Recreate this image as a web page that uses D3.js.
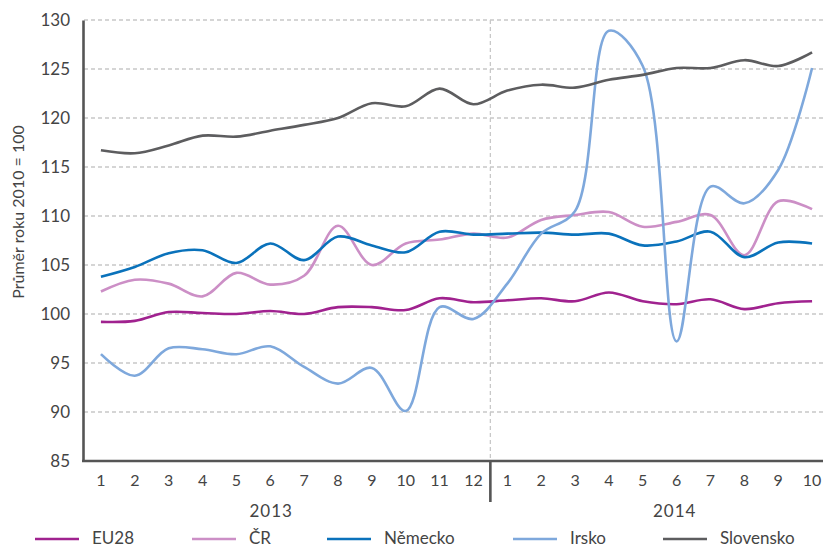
<!DOCTYPE html>
<html>
<head>
<meta charset="utf-8">
<script src="https://cdn.jsdelivr.net/npm/d3@7"></script>
<style>
  body { margin: 0; background: #fff; }
  svg { display: block; }
</style>
</head>
<body>
<svg id="chart" width="823" height="547"></svg>
<script>
// months, two years
var months = ["1","2","3","4","5","6","7","8","9","10","11","12","1","2","3","4","5","6","7","8","9","10"];
var years = ["2013", "2014"];
var yTicks = [85, 90, 95, 100, 105, 110, 115, 120, 125, 130];

var eu28 = [99.2, 99.3, 100.2, 100.1, 100.0, 100.3, 100.0, 100.7, 100.7, 100.4, 101.6, 101.2,
            101.4, 101.6, 101.3, 102.2, 101.3, 101.0, 101.5, 100.5, 101.1, 101.3];
var cr = [102.3, 103.5, 103.1, 101.8, 104.2, 103.0, 103.9, 109.0, 105.0, 107.2, 107.6, 108.2,
          107.8, 109.6, 110.1, 110.4, 108.9, 109.4, 110.1, 106.0, 111.5, 110.7];
var nemecko = [103.8, 104.8, 106.2, 106.5, 105.2, 107.2, 105.5, 107.9, 107.0, 106.3, 108.4, 108.1,
               108.2, 108.3, 108.1, 108.2, 107.0, 107.4, 108.4, 105.8, 107.3, 107.2];
var irsko = [95.9, 93.7, 96.5, 96.4, 95.9, 96.7, 94.6, 92.9, 94.5, 90.1, 100.7, 99.5,
             103.1, 108.2, 110.5, 128.9, 125.3, 97.2, 113.0, 111.3, 114.7, 125.1];
var slovensko = [116.7, 116.4, 117.2, 118.2, 118.1, 118.7, 119.3, 120.0, 121.5, 121.2, 123.0, 121.4,
                 122.8, 123.4, 123.1, 123.9, 124.4, 125.1, 125.1, 125.9, 125.3, 126.7];

var series = [
  {name: "EU28", values: eu28, color: "#a0228f"},
  {name: "ČR", values: cr, color: "#cc8fc6"},
  {name: "Německo", values: nemecko, color: "#0a72bb"},
  {name: "Irsko", values: irsko, color: "#7ea8dc"},
  {name: "Slovensko", values: slovensko, color: "#5d5d5f"}
];

var font = "Lato, 'Open Sans', sans-serif";
var svg = d3.select("#chart");
var plotL = 84, plotR = 829, plotT = 20, plotB = 461;

var x = d3.scaleBand().domain(d3.range(months.length)).range([plotL, plotR]);
var y = d3.scaleLinear().domain([85, 130]).range([plotB, plotT]);
var cx = function(i) { return x(i) + x.bandwidth() / 2; };

// grid
svg.append("g").selectAll("line")
  .data(yTicks.slice(1))
  .enter().append("line")
  .attr("x1", plotL).attr("x2", 823)
  .attr("y1", function(d) { return y(d); })
  .attr("y2", function(d) { return y(d); })
  .attr("stroke", "#c8c8c8")
  .attr("stroke-width", 1.3)
  .attr("stroke-dasharray", "4,3");

// year divider
var divX = x(12);
svg.append("line")
  .attr("x1", divX).attr("x2", divX)
  .attr("y1", plotT).attr("y2", plotB)
  .attr("stroke", "#c8c8c8").attr("stroke-width", 1.3)
  .attr("stroke-dasharray", "4,3");

// lines
var line = d3.line()
  .x(function(d, i) { return cx(i); })
  .y(function(d) { return y(d); })
  .curve(d3.curveCatmullRom);

svg.append("g").selectAll("path")
  .data(series)
  .enter().append("path")
  .attr("d", function(s) { return line(s.values); })
  .attr("fill", "none")
  .attr("stroke", function(s) { return s.color; })
  .attr("stroke-width", 2.6);

// axes
var yAxis = svg.append("g")
  .attr("transform", "translate(" + (plotL - 1) + ",0)")
  .call(d3.axisLeft(y).tickValues(yTicks).tickSize(0).tickPadding(13));
yAxis.select(".domain").attr("stroke", "#555").attr("stroke-width", 2.6);
yAxis.selectAll("text").attr("font-size", 17).attr("fill", "#444").attr("font-family", font);

var xAxis = svg.append("g")
  .attr("transform", "translate(0," + plotB + ")")
  .call(d3.axisBottom(x).tickFormat(function(i) { return months[i]; }).tickSize(0).tickPadding(14));
xAxis.select(".domain").attr("d", "M" + (plotL - 2) + ",0H" + plotR).attr("stroke", "#555").attr("stroke-width", 2.6);
xAxis.selectAll("text").attr("font-size", 16).attr("fill", "#444").attr("font-family", font);

svg.append("line")
  .attr("x1", divX).attr("x2", divX)
  .attr("y1", plotB).attr("y2", 502)
  .attr("stroke", "#555").attr("stroke-width", 2.6);

svg.selectAll(".year")
  .data(years)
  .enter().append("text")
  .attr("class", "year")
  .attr("x", function(d, i) { return i === 0 ? (cx(0) + cx(11)) / 2 - 16 : (cx(12) + cx(21)) / 2 + 15; })
  .attr("y", 517)
  .attr("text-anchor", "middle")
  .attr("font-family", font)
  .attr("font-size", 17)
  .attr("letter-spacing", 1)
  .attr("fill", "#444")
  .text(function(d) { return d; });

// y title
svg.append("text")
  .attr("transform", "translate(24,212) rotate(-90)")
  .attr("text-anchor", "middle")
  .attr("font-family", font)
  .attr("font-size", 16)
  .attr("fill", "#444")
  .text("Průměr roku 2010 = 100");

// legend
var legX = [35, 192, 327, 513, 663];
var leg = svg.append("g").selectAll("g")
  .data(series)
  .enter().append("g")
  .attr("transform", function(d, i) { return "translate(" + legX[i] + ",539)"; });
leg.append("line")
  .attr("x1", 0).attr("x2", 44)
  .attr("stroke", function(d) { return d.color; })
  .attr("stroke-width", 2.6);
leg.append("text")
  .attr("x", 57).attr("y", 5)
  .attr("font-family", font)
  .attr("font-size", 17)
  .attr("fill", "#444")
  .text(function(d) { return d.name; });
</script>
</body>
</html>
